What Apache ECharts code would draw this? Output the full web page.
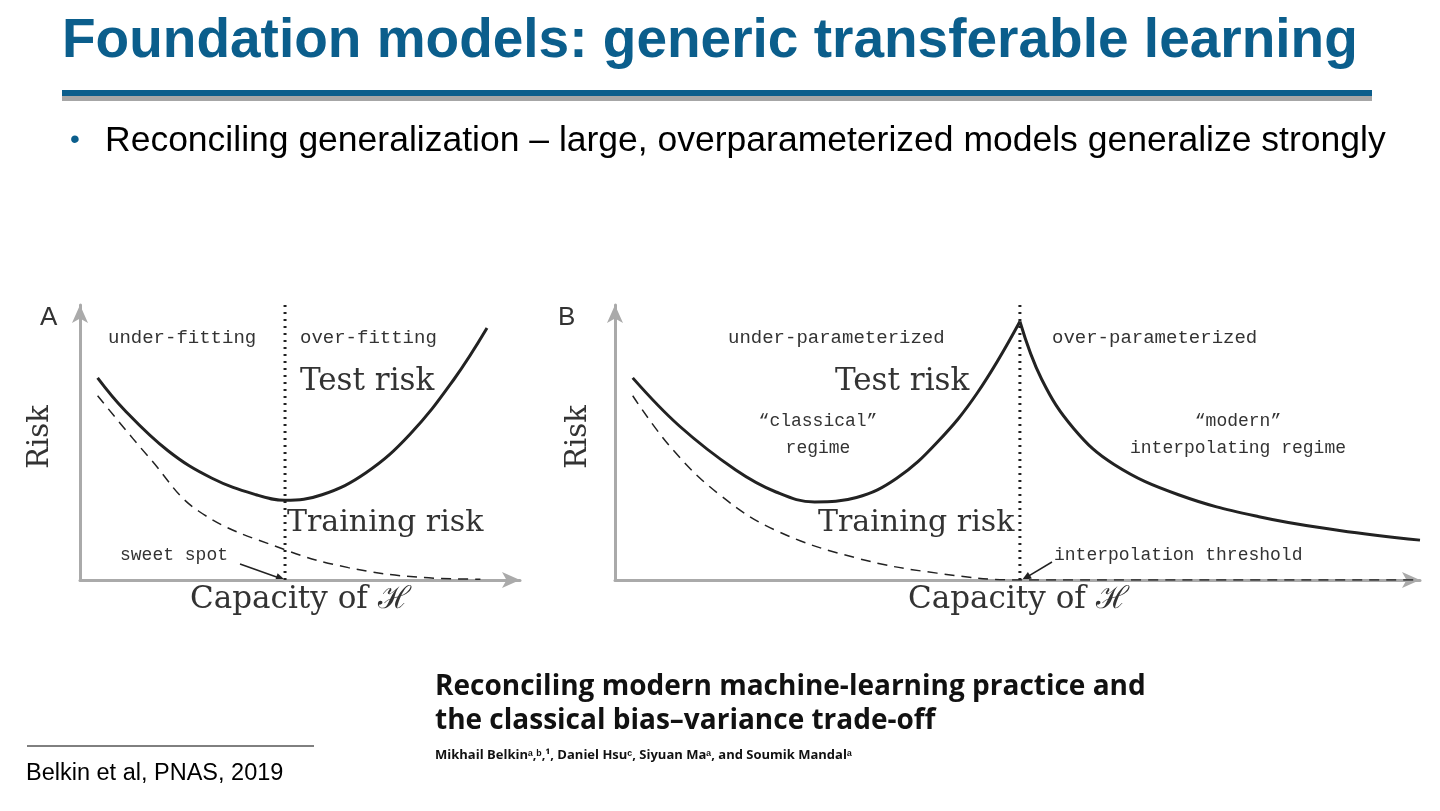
<!DOCTYPE html>
<html><head><meta charset="utf-8">
<script src="https://cdn.jsdelivr.net/npm/echarts@6/dist/echarts.min.js"></script>
<style>html,body{margin:0;background:#fff}#c{width:1440px;height:811px}</style>
</head><body><div id="c"></div>
<script>
const testA = [[0.4,7.35],[1,6.2],[2,4.7],[3,3.7],[4,3.1],[4.66,2.9],[5.5,3.1],[6.5,3.9],[7.5,5.3],[8.5,7.3],[9.25,9.16]];
const trainA = [[0.4,6.7],[1.6,4.4],[2.7,2.5],[4.66,1.1],[6.1,0.45],[7.7,0.1],[9.1,0.03]];
const sweetA = 4.66;
const testBLeft = [[0.22,7.35],[0.8,5.6],[1.5,4.0],[2.0,3.2],[2.48,2.84],[3.0,3.0],[3.5,3.7],[4.0,5.0],[4.5,6.8],[5.03,9.4]];
const testBRight = [[5.03,9.4],[5.3,7.3],[5.7,5.5],[6.2,4.2],[7,3.1],[8,2.3],[9,1.8],[10,1.45]];
const trainB = [[0.22,6.7],[0.7,4.8],[1.3,3.1],[2,1.8],[3,0.8],[4,0.25],[5.03,0],[10,0]];
const threshB = 5.03;

const serif = '"DejaVu Serif","Liberation Serif",serif';
const mono = '"Liberation Mono","DejaVu Sans Mono",monospace';
const axisX = (i)=>({gridIndex:i,type:'value',min:0,max:10,axisLine:{show:true,symbol:['none','arrow'],symbolSize:[12,18],lineStyle:{color:'#aaa',width:3}},axisTick:{show:false},axisLabel:{show:false},splitLine:{show:false}});
const axisY = axisX;
const line=(i,d,dash,w)=>({type:'line',xAxisIndex:i,yAxisIndex:i,data:d,smooth:0.4,symbol:'none',lineStyle:{color:'#222',width:w,type:dash},z:dash==='solid'?5:4});
const vline=(i,x)=>({type:'line',xAxisIndex:i,yAxisIndex:i,data:[[x,0],[x,10]],symbol:'none',lineStyle:{color:'#222',width:3,type:[2,5]}});
function txt(x,y,t,font,fill){return {type:'text',left:x,top:y,style:{text:t,font:font,fill:fill||'#333'}};}
function arrow(x1,y1,x2,y2){const a=Math.atan2(y2-y1,x2-x1),L=10;return [{type:'line',shape:{x1,y1,x2:x2-Math.cos(a)*6,y2:y2-Math.sin(a)*6},style:{stroke:'#222',lineWidth:1.5}},{type:'polygon',shape:{points:[[x2,y2],[x2-L*Math.cos(a-0.4),y2-L*Math.sin(a-0.4)],[x2-L*Math.cos(a+0.4),y2-L*Math.sin(a+0.4)]]},style:{fill:'#222'}}];}
const chart = echarts.init(document.getElementById('c'));
chart.setOption({
 animation:false,
 grid:[{left:80,top:305,width:440,height:275},{left:615,top:305,width:805,height:275}],
 xAxis:[axisX(0),axisX(1)], yAxis:[axisY(0),axisY(1)],
 series:[line(0,testA,'solid',3),line(0,trainA,[10,7],1.5),vline(0,sweetA),
         line(1,testBLeft,'solid',3),line(1,testBRight,'solid',3),line(1,trainB,[10,7],1.5),vline(1,threshB)],
 graphic:[
  txt(62,14,'Foundation models: generic transferable learning','bold 55px "Liberation Sans",Arial','#0b5e8c'),
  {type:'rect',shape:{x:62,y:90,width:1310,height:6},style:{fill:'#0b5e8c'}},
  {type:'rect',shape:{x:62,y:96,width:1310,height:5},style:{fill:'#a6a6a6'}},
  txt(70,126,'•','28px "Liberation Sans"','#0b5e8c'),
  txt(105,123,'Reconciling generalization – large, overparameterized models generalize strongly','35.5px "Liberation Sans",Arial','#000'),
  txt(40,305,'A','26px "Liberation Sans"'), txt(558,305,'B','26px "Liberation Sans"'),
  txt(108,328,'under-fitting','19px '+mono), txt(300,328,'over-fitting','19px '+mono),
  txt(300,366,'Test risk','31px '+serif), txt(287,508,'Training risk','30px '+serif),
  txt(120,546,'sweet spot','18px '+mono),
  txt(190,584,'Capacity of ℋ','31px '+serif),
  {type:'text',x:40,y:437,rotation:Math.PI/2,style:{text:'Risk',font:'29px '+serif,fill:'#333',align:'center',verticalAlign:'middle'}},
  {type:'text',x:578,y:437,rotation:Math.PI/2,style:{text:'Risk',font:'29px '+serif,fill:'#333',align:'center',verticalAlign:'middle'}},
  txt(728,328,'under-parameterized','19px '+mono), txt(1052,328,'over-parameterized','19px '+mono),
  txt(835,366,'Test risk','31px '+serif), txt(818,508,'Training risk','30px '+serif),
  {type:'text',x:818,y:408,style:{text:'“classical”\nregime',font:'18px '+mono,fill:'#333',align:'center',lineHeight:27}},
  {type:'text',x:1238,y:408,style:{text:'“modern”\ninterpolating regime',font:'18px '+mono,fill:'#333',align:'center',lineHeight:27}},
  txt(1054,546,'interpolation threshold','18px '+mono),
  txt(908,584,'Capacity of ℋ','31px '+serif),
  ...arrow(240,564,285,580), ...arrow(1052,562,1022,580),
  {type:'text',left:435,top:670,style:{text:'Reconciling modern machine-learning practice and\nthe classical bias–variance trade-off',font:'bold 28px "Open Sans",sans-serif',fill:'#111',lineHeight:34}},
  txt(435,749,'Mikhail Belkinᵃ,ᵇ,¹, Daniel Hsuᶜ, Siyuan Maᵃ, and Soumik Mandalᵃ','bold 13px "Open Sans",sans-serif','#111'),
  {type:'line',shape:{x1:27,y1:746,x2:314,y2:746},style:{stroke:'#000',lineWidth:1}},
  txt(26,762,'Belkin et al, PNAS, 2019','23.5px "Liberation Sans",Arial','#000')
 ]
});
</script></body></html>
